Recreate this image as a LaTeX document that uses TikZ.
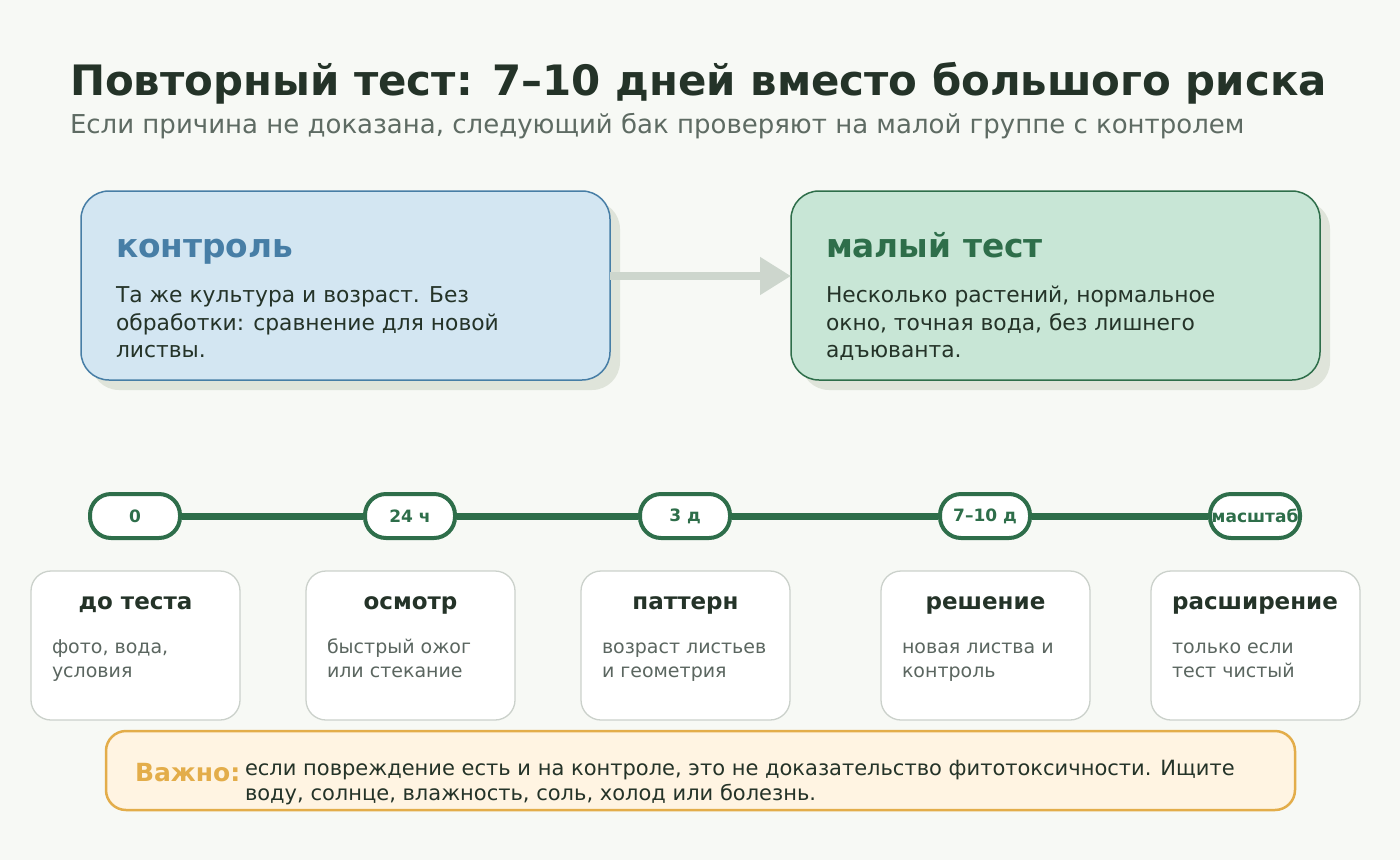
\documentclass[tikz,border=0pt]{standalone}
\usepackage{fontspec}
\setmainfont{DejaVu Sans}
\usetikzlibrary{arrows.meta}
\definecolor{bg}{HTML}{F7F9F5}
\definecolor{ink}{HTML}{243328}
\definecolor{sub}{HTML}{5E6B63}
\definecolor{blueF}{HTML}{D3E6F2}
\definecolor{blueD}{HTML}{477EA6}
\definecolor{greenF}{HTML}{C8E6D6}
\definecolor{greenD}{HTML}{2E6E4A}
\definecolor{shadowc}{HTML}{DFE4DA}
\definecolor{arrc}{HTML}{CDD6CD}
\definecolor{cardB}{HTML}{CBD1CB}
\definecolor{gray2}{HTML}{5B6660}
\definecolor{warnF}{HTML}{FFF4E2}
\definecolor{warnD}{HTML}{E3AD4A}
\newcommand{\fs}[1]{\fontsize{#1}{#1}\selectfont}
\tikzset{
  txt/.style={anchor=base west, inner sep=0pt, outer sep=0pt},
  bigbox/.style={rounded corners=28pt, line width=1.5pt},
  bigbody/.style={txt, text=ink, font=\fs{21.8}},
  pill/.style={draw=greenD, fill=white, line width=4pt, rounded corners=21pt, minimum width=90pt, minimum height=44pt, inner sep=0pt, text=greenD, font=\bfseries\fs{17}},
  card/.style={draw=cardB, fill=white, line width=1.3pt, rounded corners=20pt},
  cardT/.style={anchor=base, inner sep=0pt, text=ink, font=\bfseries\fs{23}},
  cardL/.style={txt, text=gray2, font=\fs{19}},
}
\begin{document}
\begin{tikzpicture}[x=1pt,y=-1pt]
\fill[bg] (0,0) rectangle (1400,860);
\useasboundingbox (0,0) rectangle (1400,860);
% titles
\node[txt, text=ink, font=\bfseries\fs{41.9}] (title) at (70,95) {Повторный тест: 7–10 дней вместо большого риска};
\node[txt, text=sub, font=\fs{26}] (subtitle) at (70,133) {Если причина не доказана, следующий бак проверяют на малой группе с контролем};
% shadows
\fill[shadowc, rounded corners=28pt] (91,201) rectangle (620,390);
\fill[shadowc, rounded corners=28pt] (801,201) rectangle (1330,390);
% big boxes
\draw[bigbox, draw=blueD, fill=blueF] (81,191) rectangle (610,380);
\draw[bigbox, draw=greenD, fill=greenF] (791,191) rectangle (1320,380);
\coordinate (ctrlE) at (610,276);
\coordinate (testW) at (791,276);
\draw[arrc, line width=8pt, -{Triangle[length=31pt,width=36pt]}] (ctrlE) -- (testW);
\node[txt, text=blueD, font=\bfseries\fs{32.8}] (ctrlT) at (116,257) {контроль};
\node[bigbody] (ctrl1) at (116,302) {Та же культура и возраст. Без};
\node[bigbody] (ctrl2) at (116,330) {обработки: сравнение для новой};
\node[bigbody] (ctrl3) at (116,357) {листвы.};
\node[txt, text=greenD, font=\bfseries\fs{32.8}] (testT) at (826,257) {малый тест};
\node[bigbody] (test1) at (826,302) {Несколько растений, нормальное};
\node[bigbody] (test2) at (826,330) {окно, точная вода, без лишнего};
\node[bigbody] (test3) at (826,357) {адъюванта.};
% timeline
\node[pill] (p1) at (135,516) {0};
\node[pill] (p2) at (410,516) {24 ч};
\node[pill] (p3) at (685,516) {3 д};
\node[pill] (p4) at (985,516) {7–10 д};
\node[pill] (p5) at (1255,516) {масштаб};
\foreach \a/\b in {p1/p2,p2/p3,p3/p4,p4/p5}
  \draw[greenD, line width=7pt] (\a.east) -- (\b.west);
% cards
\foreach \x in {31,306,581,881,1151}
  \draw[card] (\x,571) rectangle ++(209,149);
\node[cardT] (k1t) at (135.5,609) {до теста};
\node[cardL] (k1a) at (52,653) {фото, вода,};
\node[cardL] (k1b) at (52,677) {условия};
\node[cardT] (k2t) at (410.5,609) {осмотр};
\node[cardL] (k2a) at (327,653) {быстрый ожог};
\node[cardL] (k2b) at (327,677) {или стекание};
\node[cardT] (k3t) at (685.5,609) {паттерн};
\node[cardL] (k3a) at (602,653) {возраст листьев};
\node[cardL] (k3b) at (602,677) {и геометрия};
\node[cardT] (k4t) at (985.5,609) {решение};
\node[cardL] (k4a) at (902,653) {новая листва и};
\node[cardL] (k4b) at (902,677) {контроль};
\node[cardT] (k5t) at (1255,609) {расширение};
\node[cardL] (k5a) at (1172,653) {только если};
\node[cardL] (k5b) at (1172,677) {тест чистый};
% warning
\draw[draw=warnD, fill=warnF, line width=2.5pt, rounded corners=20pt] (106,731) rectangle (1295,810);
\node[txt, text=warnD, font=\bfseries\fs{25}] (warnT) at (135,781) {Важно:};
\node[txt, text=ink, font=\fs{21}] (warn1) at (245,775) {если повреждение есть и на контроле, это не доказательство фитотоксичности. Ищите};
\node[txt, text=ink, font=\fs{21}] (warn2) at (245,800) {воду, солнце, влажность, соль, холод или болезнь.};
\end{tikzpicture}
\end{document}
